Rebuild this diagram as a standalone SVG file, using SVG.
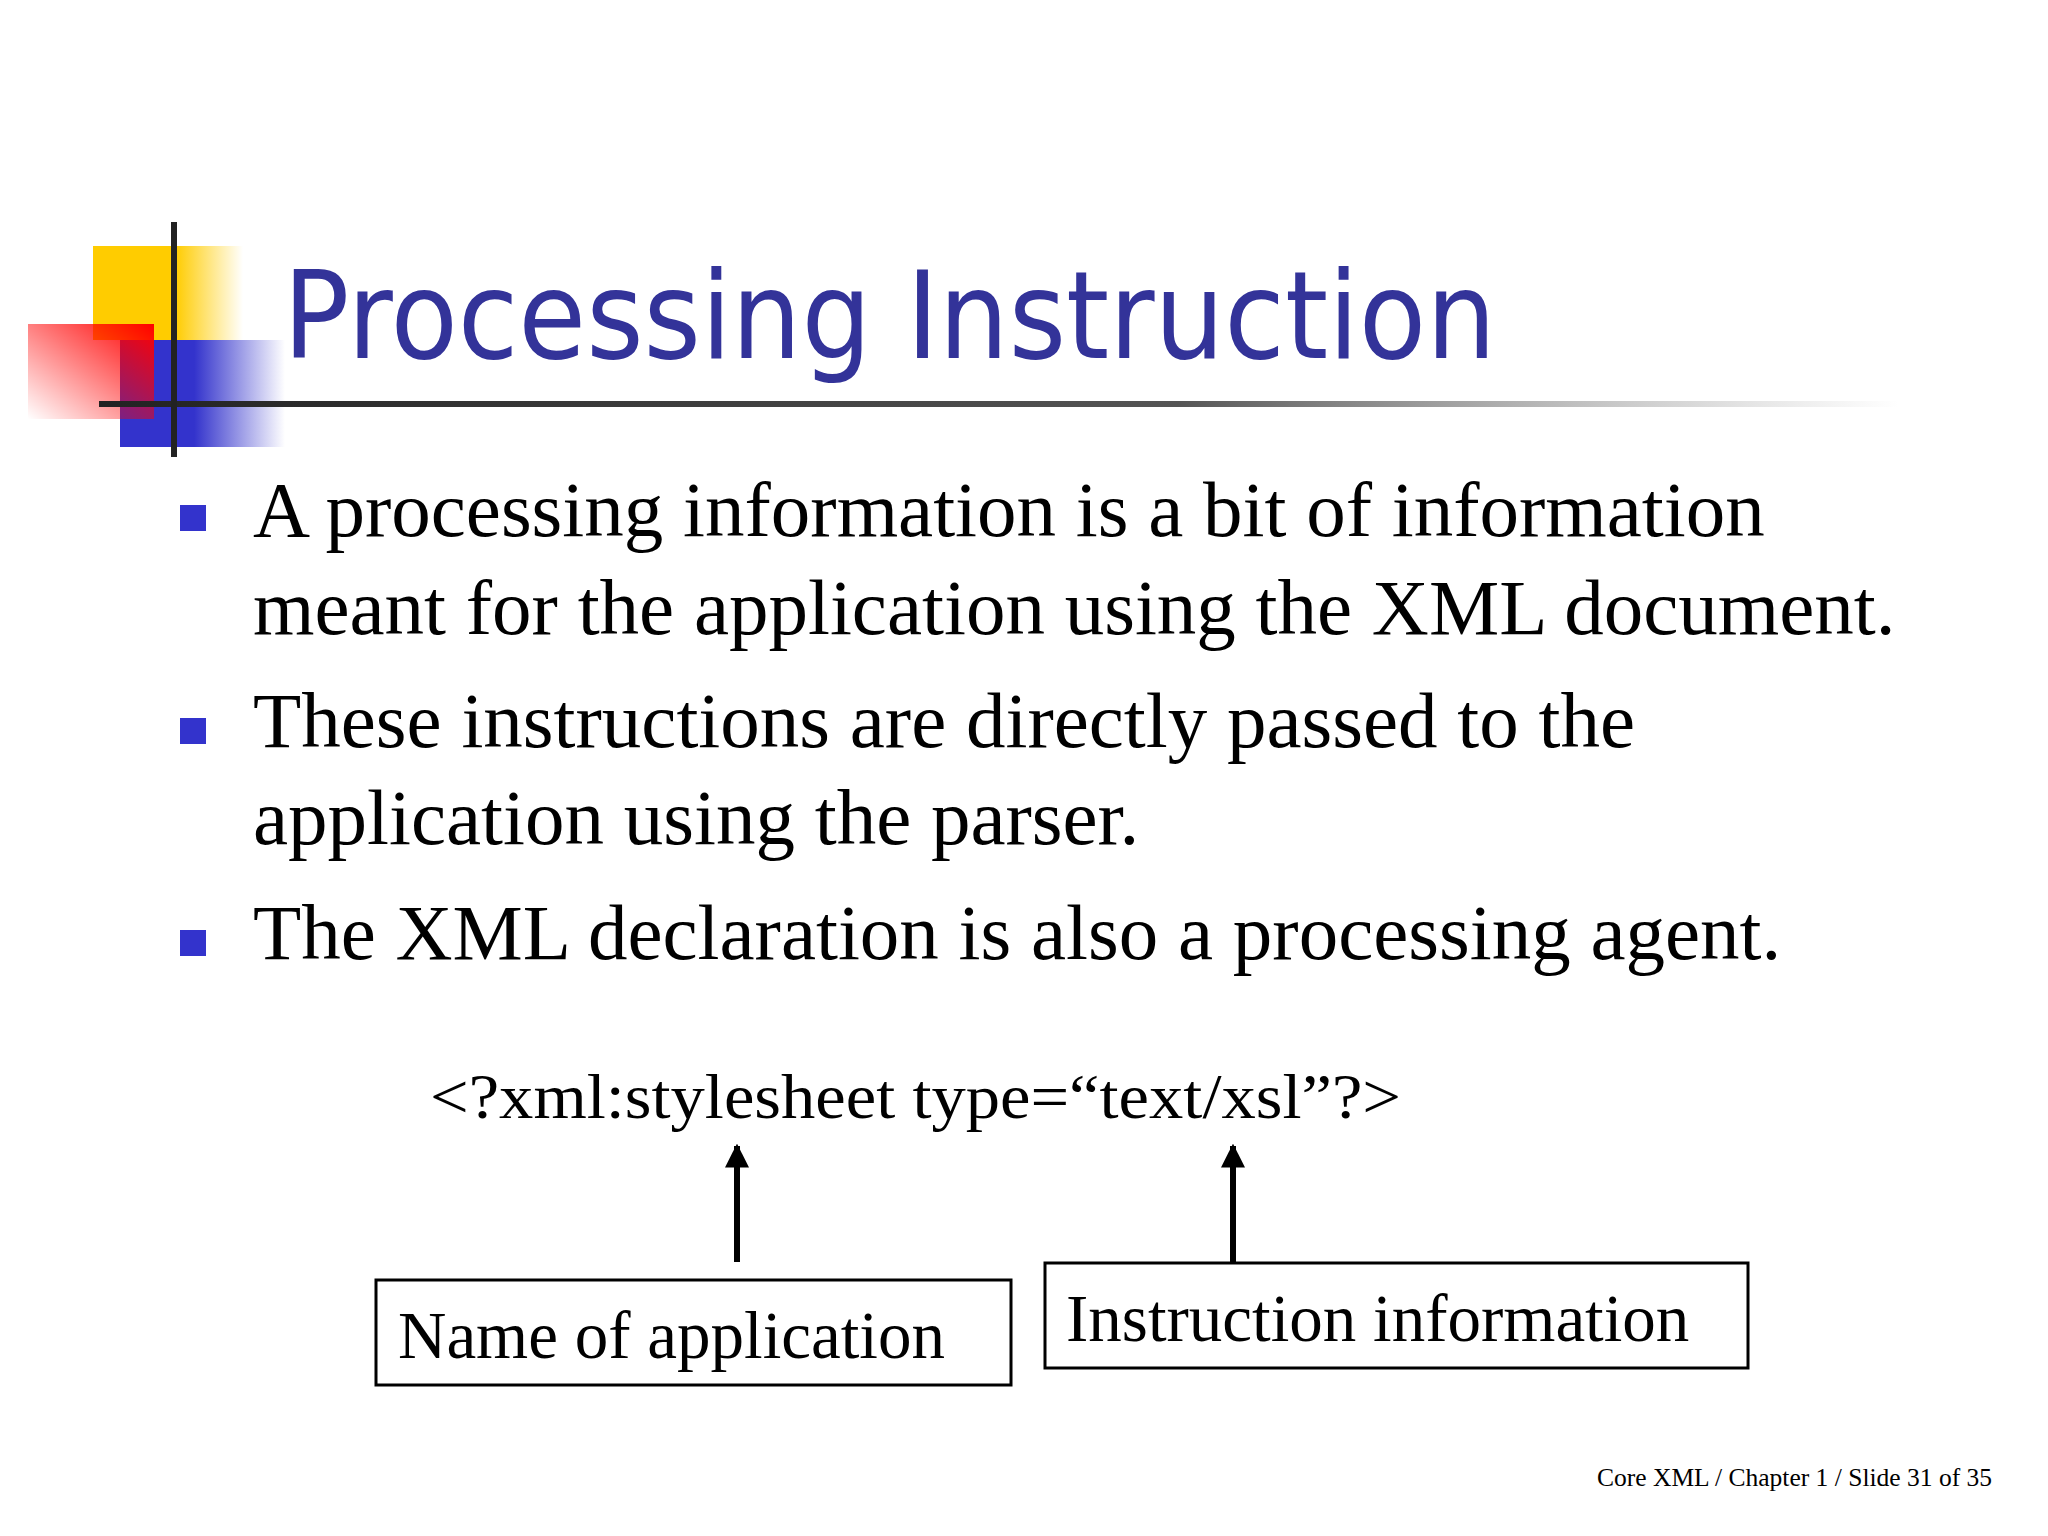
<svg xmlns="http://www.w3.org/2000/svg" width="2048" height="1536" viewBox="0 0 2048 1536">
<defs>
<linearGradient id="gy" x1="0" x2="1" y1="0" y2="0"><stop offset="0.55" stop-color="#ffcc00"/><stop offset="1" stop-color="#ffcc00" stop-opacity="0"/></linearGradient>
<linearGradient id="gb" x1="0" x2="1" y1="0" y2="0"><stop offset="0.45" stop-color="#3333cc"/><stop offset="1" stop-color="#3333cc" stop-opacity="0"/></linearGradient>
<linearGradient id="gr" x1="1" x2="0" y1="0" y2="1"><stop offset="0" stop-color="#ff0000"/><stop offset="1" stop-color="#ff0000" stop-opacity="0"/></linearGradient>
<linearGradient id="gl" x1="0" x2="1" y1="0" y2="0"><stop offset="0" stop-color="#222"/><stop offset="0.6" stop-color="#555"/><stop offset="1" stop-color="#888" stop-opacity="0"/></linearGradient>
<marker id="ah" viewBox="0 0 10 10" refX="9" refY="5" markerWidth="4" markerHeight="4" orient="auto"><path d="M0,0 L10,5 L0,10 z" fill="#000"/></marker>
</defs>
<style>
.b{font-family:"Liberation Serif","Times New Roman",serif;font-size:79px;fill:#000}
.sq{fill:#3333cc}
.box{fill:#fff;stroke:#000;stroke-width:3}
.lbl{font-family:"Liberation Serif",serif;font-size:67px;fill:#000}
.arr{stroke:#000;stroke-width:6;marker-end:url(#ah)}
</style>
<rect width="2048" height="1536" fill="#fff"/>
<g id="logo">
<rect x="93" y="246" width="150" height="94" fill="url(#gy)"/>
<rect x="120" y="340" width="165" height="107" fill="url(#gb)"/>
<rect x="28" y="324" width="126" height="95" fill="url(#gr)"/>
<rect x="99" y="401" width="1800" height="6" fill="url(#gl)"/>
<rect x="171" y="222" width="6" height="235" fill="#222"/>
</g>
<g id="title"><text x="283" y="358" font-family="'DejaVu Sans','Liberation Sans',sans-serif" font-size="122" fill="#333399" textLength="1213" lengthAdjust="spacingAndGlyphs">Processing Instruction</text></g>
<g id="bullets">
<rect class="sq" x="180" y="505" width="26" height="26"/>
<rect class="sq" x="180" y="718" width="26" height="26"/>
<rect class="sq" x="180" y="930" width="26" height="26"/>
<text class="b" x="253" y="536">A processing information is a bit of information</text>
<text class="b" x="253" y="634">meant for the application using the XML document.</text>
<text class="b" x="253" y="747">These instructions are directly passed to the</text>
<text class="b" x="253" y="844">application using the parser.</text>
<text class="b" x="253" y="959">The XML declaration is also a processing agent.</text>
</g>
<g id="code"><text x="430" y="1118" font-family="'Liberation Serif',serif" font-size="64" textLength="971" lengthAdjust="spacingAndGlyphs">&lt;?xml:stylesheet type=“text/xsl”?&gt;</text></g>
<g id="connectors">
<line class="arr" x1="737" y1="1262" x2="737" y2="1146"/>
<line class="arr" x1="1233" y1="1262" x2="1233" y2="1146"/>
</g>
<g id="n1"><rect class="box" x="376" y="1280" width="635" height="105"/><text class="lbl" x="398" y="1358">Name of application</text></g>
<g id="n2"><rect class="box" x="1045" y="1263" width="703" height="105"/><text class="lbl" x="1066" y="1341">Instruction information</text></g>
<g id="footer"><text x="1992" y="1486" text-anchor="end" font-family="'Liberation Serif',serif" font-size="25.5">Core XML / Chapter 1 / Slide 31 of 35</text></g>
</svg>
